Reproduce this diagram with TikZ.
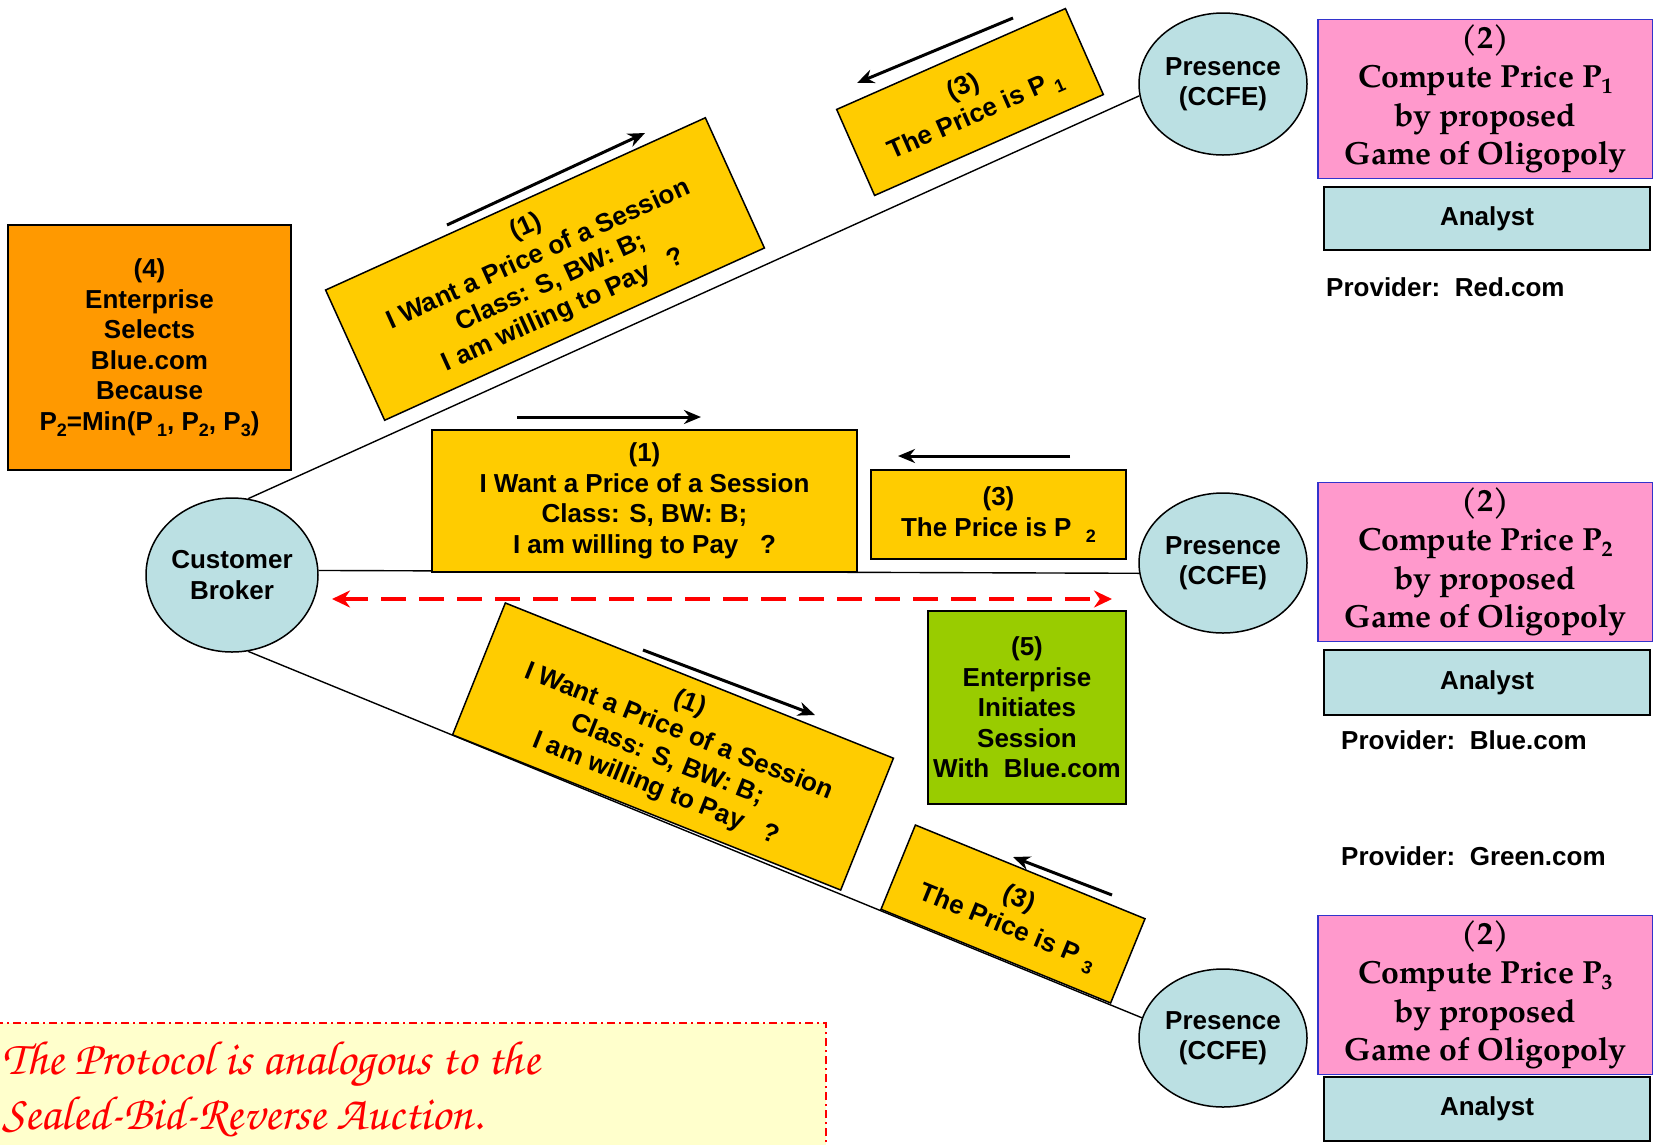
\documentclass[tikz,border=0pt]{standalone}
\usepackage{fontspec}
\setmainfont{Liberation Sans}
\newfontfamily\palafont{texgyrepagella-bold.otf}
\newfontfamily\chorusfont{texgyrechorus-mediumitalic.otf}
\usetikzlibrary{arrows.meta,shapes.geometric}

\definecolor{msgyellow}{HTML}{FFCC00}
\definecolor{selorange}{HTML}{FF9900}
\definecolor{initgreen}{HTML}{99CC00}
\definecolor{gamepink}{HTML}{FF99CC}
\definecolor{agentblue}{HTML}{BBE0E3}
\definecolor{notefill}{HTML}{FFFFCC}
\definecolor{pinkedge}{HTML}{3333CC}

% lowered small index used after a price symbol
\newcommand{\lowsub}[1]{\raisebox{-6pt}{\fontsize{18}{18}\selectfont #1}}
\newcommand{\lowsubserif}[1]{\raisebox{-6pt}{\fontsize{22}{22}\selectfont #1}}

\tikzset{
  txt/.style={font=\bfseries\fontsize{26}{30.5}\selectfont, align=center},
  agent/.style={ellipse, draw, line width=1.5pt, fill=agentblue, inner sep=0pt, txt},
  msg/.style={draw, line width=1.5pt, fill=msgyellow, inner sep=0pt, txt},
  game/.style={draw=pinkedge, line width=1.2pt, fill=gamepink, inner sep=0pt,
    align=center, font=\palafont\fontsize{32}{38.7}\selectfont,
    minimum width=335pt, minimum height=159pt},
  analyst/.style={draw, line width=1.8pt, fill=agentblue, inner sep=0pt, txt,
    minimum width=326pt, minimum height=63pt},
  provider/.style={anchor=west, inner sep=0pt, txt},
  link/.style={line width=1.4pt},
  msgarrow/.style={line width=3pt, -{Stealth[length=17pt,width=14pt]}},
  initarrow/.style={line width=4pt, draw=red, dash pattern=on 25pt off 13pt,
    {Stealth[length=18pt,width=17pt]}-{Stealth[length=18pt,width=17pt]}}
}

\begin{document}
\begin{tikzpicture}[x=1pt,y=-1pt]
\useasboundingbox (0,0) rectangle (1653,1144);

% customer side and the three providers' front ends
\node[agent, minimum width=172pt, minimum height=154pt] (cb) at (232,575) {Customer\\Broker};
\node[agent, minimum width=168pt, minimum height=142pt] (p1) at (1223,84) {Presence\\(CCFE)};
\node[agent, minimum width=168pt, minimum height=140pt] (p2) at (1223,563) {Presence\\(CCFE)};
\node[agent, minimum width=168pt, minimum height=138pt] (p3) at (1223,1038) {Presence\\(CCFE)};

% links between broker and front ends
\draw[link] (cb.78) -- (p1.188);
\draw[link] (cb.3) -- (p2.187);
\draw[link] (cb.-78) -- (p3.166);

% bottom note
\node[draw=red, line width=1.5pt, dash pattern=on 8pt off 4pt on 2pt off 4pt,
  fill=notefill, anchor=north west, minimum width=837pt, minimum height=140pt,
  inner sep=0pt] (note) at (-12,1022) {};
\node[anchor=north west, inner sep=0pt, align=left, text=red,
  font=\chorusfont\fontsize{48}{55}\selectfont] (notetext) at (2,1042)
  {The Protocol is analogous to the\\Sealed-Bid-Reverse Auction.};

% requests and replies along the upper link
\node[msg, minimum width=417pt, minimum height=143pt, rotate=24.4] (q1) at (545,269)
  {(1)\\I Want a Price of a Session\\Class: S, BW: B;\\I am willing to Pay\ \ \ ?};
\node[msg, minimum width=250pt, minimum height=94pt, rotate=23.8] (r1) at (970,102)
  {(3)\\The Price is P\ \lowsub{1}};

% requests and replies along the middle link
\node[msg, minimum width=425pt, minimum height=142pt] (q2) at (644.5,501)
  {(1)\\I Want a Price of a Session\hspace*{22pt}\\Class: S, BW: B;\\I am willing to Pay\ \ \ ?};
\node[msg, minimum width=255pt, minimum height=89pt] (r2) at (998.5,514.5)
  {(3)\\The Price is P\ \ \lowsub{2}};

% requests and replies along the lower link
\node[msg, minimum width=418pt, minimum height=142pt, rotate=-21.8] (q3) at (673,746.5)
  {(1)\\I Want a Price of a Session\\Class: S, BW: B;\\I am willing to Pay\ \ \ ?};
\node[msg, minimum width=248pt, minimum height=91pt, rotate=-22.2] (r3) at (1013,914)
  {(3)\\The Price is P\ \lowsub{3}};

% selection and session set-up
\node[draw, line width=1.5pt, fill=selorange, inner sep=0pt, txt,
  minimum width=283pt, minimum height=245pt] (sel) at (149.5,347.5)
  {(4)\\Enterprise\\Selects\\Blue.com\\Because\\P\lowsub{2}=Min(P\,\lowsub{1}, P\lowsub{2}, P\lowsub{3})};
\node[draw, line width=1.5pt, fill=initgreen, inner sep=0pt, txt,
  minimum width=198pt, minimum height=193pt] (init) at (1027,707.5)
  {(5)\\Enterprise\\Initiates\\Session\\With\ \ Blue.com};

% providers: pricing game and analyst
\node[game] (g1) at (1485.5,99) {(2)\\Compute Price P\lowsubserif{1}\\by proposed\\Game of Oligopoly};
\node[analyst] (a1) at (1487,218.5) {Analyst};
\node[provider] (pv1) at (1326,287) {Provider:\ \ Red.com};

\node[game] (g2) at (1485.5,562) {(2)\\Compute Price P\lowsubserif{2}\\by proposed\\Game of Oligopoly};
\node[analyst, minimum height=65pt] (a2) at (1487,682.5) {Analyst};
\node[provider] (pv2) at (1341,740) {Provider:\ \ Blue.com};

\node[provider] (pv3) at (1341,856) {Provider:\ \ Green.com};
\node[game] (g3) at (1485.5,995) {(2)\\Compute Price P\lowsubserif{3}\\by proposed\\Game of Oligopoly};
\node[analyst, minimum height=64pt] (a3) at (1487,1109) {Analyst};

% direction of each message
\coordinate (q1s) at (447,225);  \coordinate (q1e) at (645,133);
\coordinate (r1s) at (1013,18);  \coordinate (r1e) at (857,83);
\coordinate (q2s) at (517,417);  \coordinate (q2e) at (701,417);
\coordinate (r2s) at (1070,456); \coordinate (r2e) at (898,456);
\coordinate (q3s) at (643,650);  \coordinate (q3e) at (815,715);
\coordinate (r3s) at (1112,895); \coordinate (r3e) at (1013,857);
\draw[msgarrow] (q1s) -- (q1e);
\draw[msgarrow] (r1s) -- (r1e);
\draw[msgarrow] (q2s) -- (q2e);
\draw[msgarrow] (r2s) -- (r2e);
\draw[msgarrow] (q3s) -- (q3e);
\draw[msgarrow] (r3s) -- (r3e);

% session between broker and the chosen provider
\coordinate (ss) at (332,599);
\coordinate (se) at (1112,599);
\draw[initarrow] (ss) -- (se);
\end{tikzpicture}
\end{document}
